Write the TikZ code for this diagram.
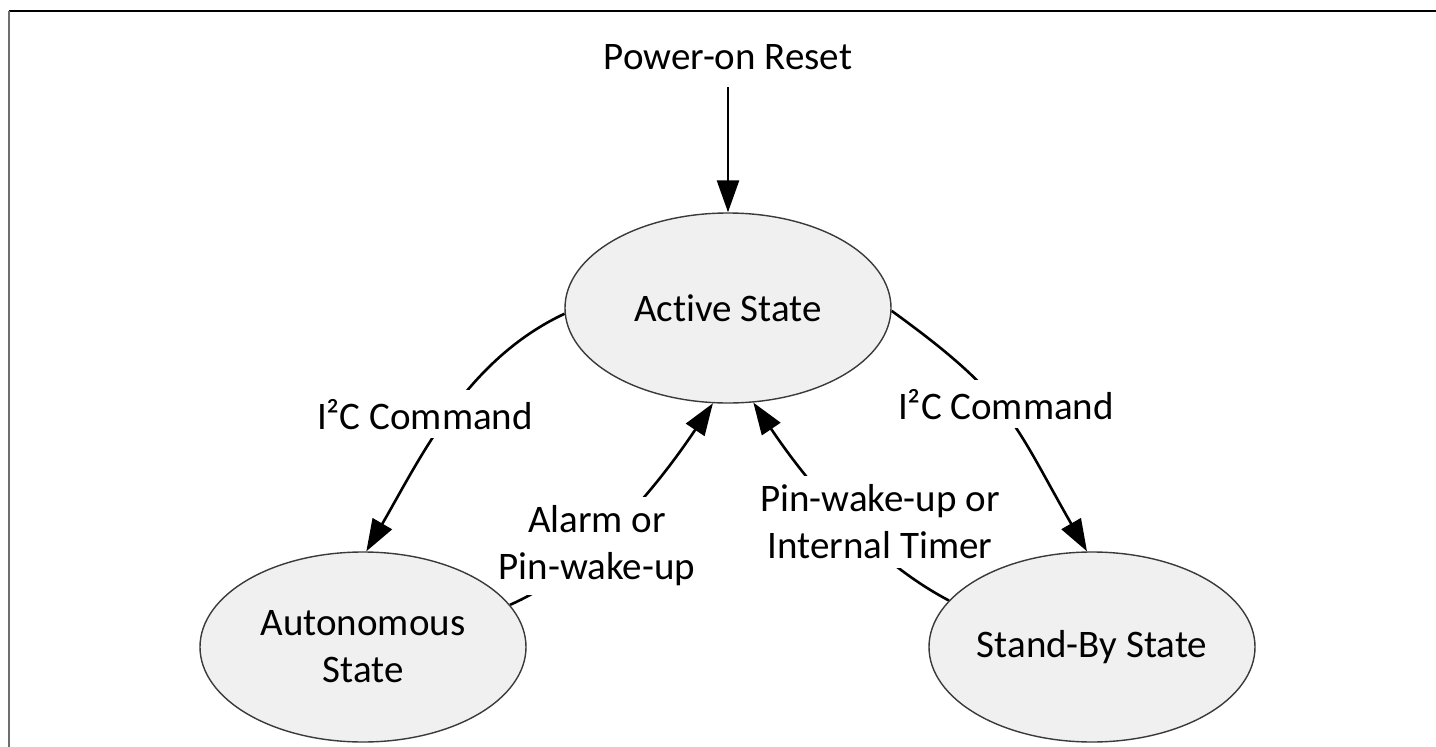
\documentclass[tikz,border=0pt]{standalone}
\usepackage{fontspec}
\setmainfont{Carlito}[Ligatures={NoCommon}]
\usetikzlibrary{arrows.meta,shapes.geometric}
\pgfdeclarelayer{bg}
\pgfsetlayers{bg,main}
\definecolor{statefill}{HTML}{F0F0F0}
\definecolor{stateline}{HTML}{3A3A3A}
\definecolor{framegray}{HTML}{6E6E6E}
\begin{document}
\begin{tikzpicture}[x=1pt,y=-1pt,
  txt/.style={font=\fontsize{39}{47}\selectfont},
  state/.style={txt, ellipse, draw=stateline, line width=1.4pt, fill=statefill,
    minimum width=326pt, minimum height=190pt, inner sep=0pt, align=center},
  lbl/.style={txt, align=center, inner sep=0pt},
  gap/.style={txt, align=center, fill=white, inner xsep=6pt, inner ysep=9pt},
  arr/.style={line width=2.6pt, -{Triangle[length=32pt,width=22pt]}}]

\useasboundingbox (0,0) rectangle (1436,747);

% frame edges
\draw[black, line width=1.3pt] (9,11) -- (1436,11);
\draw[framegray, line width=2pt] (9,11) -- (9,747);

% states
\node[state] (act)  at (728,308) {Active State};
\node[state] (auto) at (363,647) {Autonomous\\State};
\node[state] (sb)   at (1092,647) {Stand-By State};

% reset source
\node[lbl, anchor=base] (pwr) at (728,69) {Power-on Reset};
\draw[arr, shorten <=18pt] (pwr.south) -- (act.north);

% transitions with their labels set into gaps
\begin{pgfonlayer}{bg}
  \fill[white] (0,0) rectangle (1436,747);

  \draw[arr] (act.182) .. controls (466,360) and (421,457) .. (auto.88);
  \draw[arr] (act.359) .. controls (1011,397) and (1013,422) .. (sb.93);
  \draw[arr] (auto.16) .. controls (594,568) and (663,478) .. (act.261);
  \draw[arr] (sb.162) .. controls (868,558) and (805,479) .. (act.285);

  \node[gap, anchor=base] (cmdl) at (425,429) {I²C Command};
  \node[gap, anchor=base] (cmdr) at (1006,419) {I²C Command};
  \node[gap] (alarm) at (597,546) {Alarm or\\Pin-wake-up};
  \node[gap] (wake)  at (880,522) {Pin-wake-up or\\Internal Timer};
\end{pgfonlayer}
\end{tikzpicture}
\end{document}
